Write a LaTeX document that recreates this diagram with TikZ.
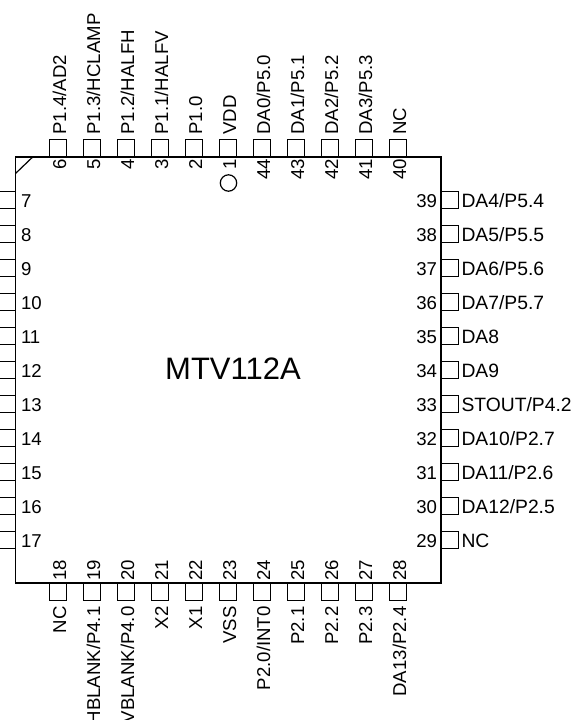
\documentclass[tikz,border=0pt]{standalone}
\usepackage{fontspec}
\setmainfont{Liberation Sans}
\usepackage{tikz}
\usetikzlibrary{positioning}
\tikzset{
    pinbox/.style = {draw = black, line width = 1.2pt},
    pintext/.style = {inner sep = 0pt, outer sep = 0pt, font = \fontsize{18.6}{20}\selectfont, text = black},
    sidetext/.style = {pintext, font = \fontsize{19.3}{20}\selectfont},
}

\begin{document}
\begin{tikzpicture}[x = 1pt, y = -1pt]
    % Parametri
    \pgfmathsetmacro{\xmin}{15.5}
    \pgfmathsetmacro{\xmax}{441}
    \pgfmathsetmacro{\ymin}{157}
    \pgfmathsetmacro{\ymax}{583}
    \pgfmathsetmacro{\lato}{17.3}
    \pgfmathsetmacro{\passo}{34}
    \pgfmathsetmacro{\base}{8}
    \useasboundingbox (0,0) rectangle (574,720);
    % Corpo del chip
    \draw[pinbox] (\xmin,\ymin) rectangle (\xmax,\ymax);
    \draw[pinbox] (32.7,\ymin) -- (\xmin,173.5);
    \node[pintext, font = \fontsize{31}{33}\selectfont] (nome) at (233,369) {MTV112A};
    % Lato sopra
    \foreach \n/\lab [count = \i from 0] in {6/{P1.4/AD2}, 5/{P1.3/HCLAMP}, 4/{P1.2/HALFH}, 3/{P1.1/HALFV}, 2/{P1.0}, 1/{VDD}, 44/{DA0/P5.0}, 43/{DA1/P5.1}, 42/{DA2/P5.2}, 41/{DA3/P5.3}, 40/{NC}} {
        \pgfmathsetmacro{\x}{58+\i*\passo}
        \draw[pinbox] ({\x-\lato/2},\ymin-\lato) rectangle ({\x+\lato/2},\ymin);
        \node[pintext, rotate = 90, anchor = base west] (lab\n) at ({\x+\base},134.5) {\lab};
        \node[pintext, rotate = 90, anchor = base east] (num\n) at ({\x+\base},159) {\n};
    }
    % Cerchio del piedino 1
    \draw[pinbox] (228.5,183) circle (8.2pt);
    % Lato destro
    \foreach \n/\lab [count = \i from 0] in {39/{DA4/P5.4}, 38/{DA5/P5.5}, 37/{DA6/P5.6}, 36/{DA7/P5.7}, 35/{DA8}, 34/{DA9}, 33/{STOUT/P4.2}, 32/{DA10/P2.7}, 31/{DA11/P2.6}, 30/{DA12/P2.5}, 29/{NC}} {
        \pgfmathsetmacro{\y}{200+\i*\passo}
        \draw[pinbox] (\xmax,{\y-\lato/2}) rectangle (\xmax+\lato,{\y+\lato/2});
        \node[sidetext, anchor = base west] (lab\n) at (461.5,{\y+\base-1}) {\lab};
        \node[pintext, anchor = base east] (num\n) at (437,{\y+\base-1}) {\n};
    }
    % Lato sinistro
    \foreach \n [count = \i from 0] in {7,...,17} {
        \pgfmathsetmacro{\y}{200+\i*\passo}
        \draw[pinbox] (\xmin,{\y-\lato/2}) rectangle (\xmin-\lato,{\y+\lato/2});
        \node[pintext, anchor = base west] (num\n) at (21,{\y+\base-1}) {\n};
    }
    % Lato sotto
    \foreach \n/\lab [count = \i from 0] in {18/{NC}, 19/{HBLANK/P4.1}, 20/{VBLANK/P4.0}, 21/{X2}, 22/{X1}, 23/{VSS}, 24/{P2.0/INT0}, 25/{P2.1}, 26/{P2.2}, 27/{P2.3}, 28/{DA13/P2.4}} {
        \pgfmathsetmacro{\x}{58+\i*\passo}
        \draw[pinbox] ({\x-\lato/2},\ymax) rectangle ({\x+\lato/2},\ymax+\lato);
        \node[pintext, rotate = 90, anchor = base east] (lab\n) at ({\x+\base},606.5) {\lab};
        \node[pintext, rotate = 90, anchor = base west] (num\n) at ({\x+\base},580.5) {\n};
    }
\end{tikzpicture}
\end{document}
